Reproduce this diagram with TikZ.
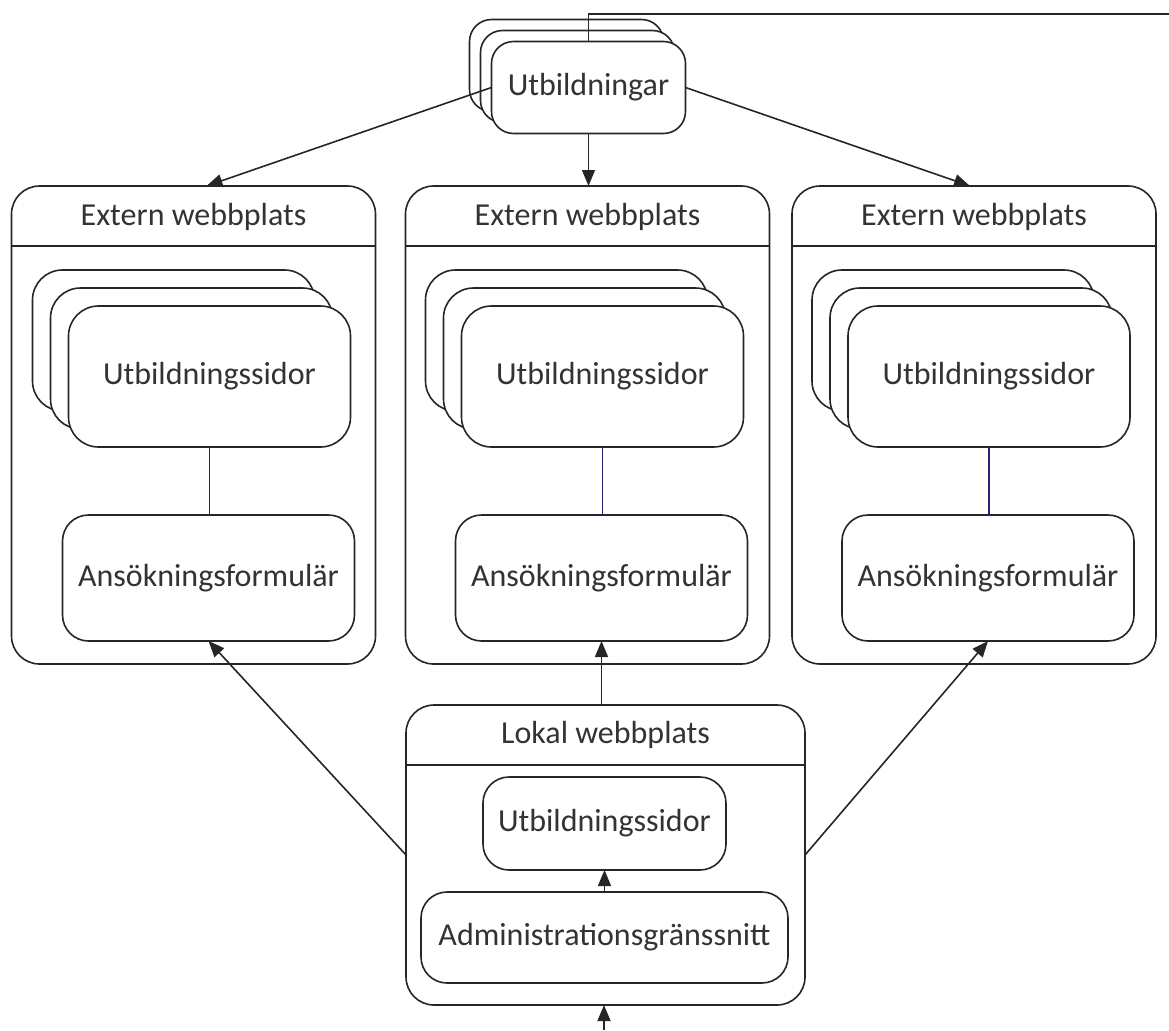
\documentclass[tikz,border=0pt]{standalone}
\usepackage{fontspec}
\setmainfont{Carlito}
\usetikzlibrary{arrows.meta,calc}
\begin{document}
\begin{tikzpicture}[x=1pt,y=-1pt,
  every node/.style={font=\fontsize{32}{37}\selectfont, text=black!80},
  box/.style={draw=black!85, line width=1.6pt, fill=white, inner sep=0pt, outer sep=0pt, rectangle},
  conn/.style={draw=black!85, line width=1.6pt},
  arr/.style={conn, -{Triangle[length=16pt,width=13pt]}},
  navy/.style={draw={rgb,255:red,35;green,35;blue,110}, line width=1.4pt},
  label/.style={inner sep=0pt}
]
\useasboundingbox (0,0) rectangle (1169,1030);

% ---------- Utbildningar stack ----------
\node[box, rounded corners=22pt, minimum width=194pt, minimum height=92pt] (utbB) at (566.5,65.5) {};
\node[box, rounded corners=22pt, minimum width=194pt, minimum height=92pt] (utbM) at (577.5,76.5) {};
\node[box, rounded corners=22pt, minimum width=194pt, minimum height=92pt] (utb) at (588.5,87.5) {Utbildningar};

% ---------- External sites ----------
\foreach \i/\cx/\sx in {1/193.5/209.5, 2/587.5/602.5, 3/974/989}{
  \node[box, rounded corners=28pt, minimum width=364pt, minimum height=478pt] (ext\i) at (\cx,425) {};
  \draw[conn] ($(ext\i.north west)+(0,60)$) -- ($(ext\i.north east)+(0,60)$);
  \node[label] (title\i) at ($(ext\i.north)+(0,31)$) {Extern webbplats};
  \node[box, rounded corners=30pt, minimum width=282pt, minimum height=141pt] (sidB\i) at (\sx-36,340.5) {};
  \node[box, rounded corners=30pt, minimum width=282pt, minimum height=141pt] (sidM\i) at (\sx-18,358.5) {};
  \node[box, rounded corners=30pt, minimum width=282pt, minimum height=141pt] (sid\i) at (\sx,376.5) {Utbildningssidor};
  \node[box, rounded corners=26pt, minimum width=292pt, minimum height=126pt] (ans\i) at (\sx-1,578) {Ansökningsformulär};
  \draw[navy] (sid\i.south) -- (sid\i.south |- ans\i.north);
}

% ---------- Local site ----------
\node[box, rounded corners=28pt, minimum width=399pt, minimum height=300pt] (lokal) at (605.5,855) {};
\draw[conn] ($(lokal.north west)+(0,60)$) -- ($(lokal.north east)+(0,60)$);
\node[label] (ltitle) at ($(lokal.north)+(0,30)$) {Lokal webbplats};
\node[box, rounded corners=26pt, minimum width=243pt, minimum height=93pt] (lsid) at (604.5,823.5) {Utbildningssidor};
\node[box, rounded corners=26pt, minimum width=367pt, minimum height=91pt] (admin) at (604.5,937.5) {Administrationsgränssnitt};

% ---------- Connectors ----------
\coordinate (topend) at (1169,14);
\coordinate (botend) at (604,1030);
\draw[conn] (utb.north) |- (topend);
\draw[arr] (utb.west) -- ($(ext1.north)+(13,0)$);
\draw[arr] (utb.south) -- (utb.south |- ext2.north);
\draw[arr] (utb.east) -- ($(ext3.north)+(-4,0)$);
\draw[arr] (lokal.north -| ans2.south) -- (ans2.south);
\draw[arr] (lokal.west) -- (ans1.south);
\draw[arr] (lokal.east) -- (ans3.south);
\draw[arr] (admin.north) -- (admin.north |- lsid.south);
\draw[arr] (botend) -- (botend |- lokal.south);
\end{tikzpicture}
\end{document}
